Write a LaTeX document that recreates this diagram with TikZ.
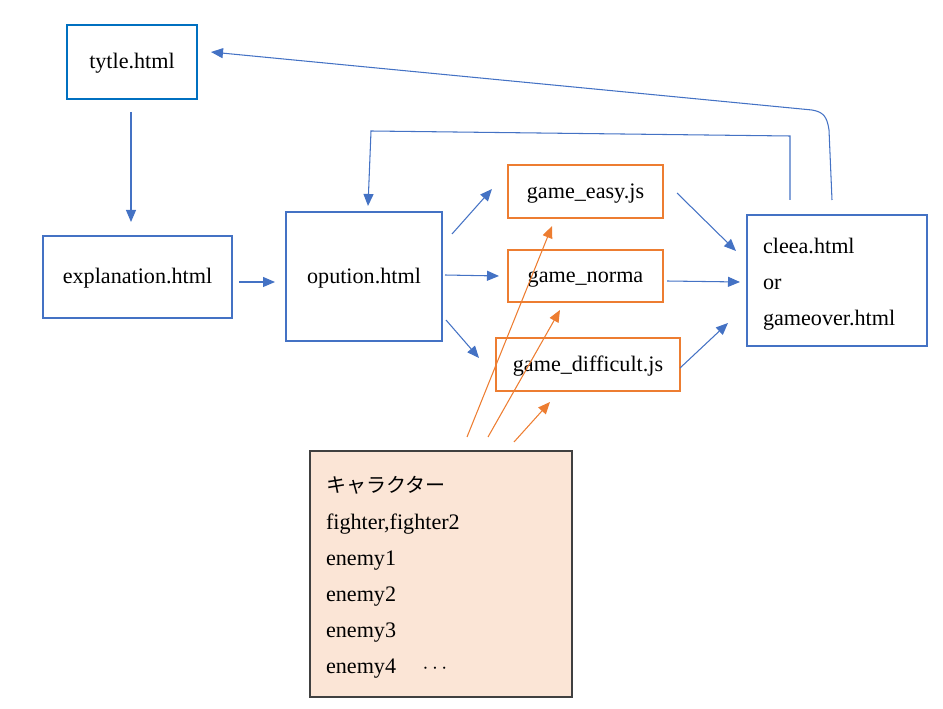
\documentclass[tikz,border=0pt]{standalone}
\usepackage{fontspec}
\setmainfont{Liberation Serif}
\newfontfamily\cjk{Noto Sans CJK JP}
\usetikzlibrary{arrows.meta}
\definecolor{blueline}{HTML}{4472C4}
\definecolor{titleblue}{HTML}{0070C0}
\definecolor{orangeline}{HTML}{ED7D31}
\definecolor{peach}{HTML}{FBE5D6}
\definecolor{boxgray}{HTML}{404040}

\begin{document}
\begin{tikzpicture}[x=0.02cm,y=-0.02cm,
  pagefont/.style={font=\fontsize{12.6}{20.6}\selectfont},
  bluebox/.style={draw=blueline, line width=1pt, inner sep=0pt, pagefont},
  orangebox/.style={draw=orangeline, line width=1pt, inner sep=0pt, pagefont},
  oneline/.style={text height=2.8mm, text depth=0pt},
  barrow/.style={draw=blueline, line width=0.6pt, -{Triangle[length=2.4mm,width=2mm]}},
  oarrow/.style={draw=orangeline, line width=0.6pt, -{Triangle[length=2.4mm,width=2mm]}}]
\useasboundingbox (0,0) rectangle (943,709);

% pages
\node[bluebox, oneline, draw=titleblue, line width=1.3pt, minimum width=2.6cm, minimum height=1.48cm] (tytle) at (132,62) {tytle.html};
\node[bluebox, oneline, minimum width=3.78cm, minimum height=1.64cm] (explanation) at (137.5,277) {explanation.html};
\node[bluebox, oneline, minimum width=3.12cm, minimum height=2.58cm] (opution) at (364,276.5) {opution.html};
\node[bluebox, minimum width=3.6cm, minimum height=2.62cm, text width=2.96cm, align=left] (result) at (837,280.5)
  {\rule{0pt}{4.6mm}cleea.html\\or\\gameover.html};

% game scripts
\node[orangebox, oneline, minimum width=3.1cm, minimum height=1.06cm] (easy) at (585.5,191.5) {game\_easy.js};
\node[orangebox, oneline, minimum width=3.1cm, minimum height=1.04cm] (norma) at (585.5,276) {game\_norma};
\node[orangebox, oneline, minimum width=3.68cm, minimum height=1.06cm] (difficult) at (588,364.5) {game\_difficult.js};

% characters
\node[draw=boxgray, fill=peach, line width=0.8pt, inner sep=0pt, pagefont, minimum width=5.24cm, minimum height=4.92cm,
  text width=4.6cm, align=left] (chara) at (441,574)
  {\rule{0pt}{4.7mm}{\cjk\fontsize{11.4}{20.6}\selectfont キャラクター}\\fighter,fighter2\\enemy1\\enemy2\\enemy3\\enemy4\hspace{1.2em}$\cdots$};

% arrow ends
\coordinate (tyS) at (131,112);
\coordinate (exN) at (131,222);
\coordinate (exE) at (239,282);
\coordinate (opW) at (275,282);
\coordinate (opNE) at (452,234);
\coordinate (eaSW) at (492,189);
\coordinate (opE) at (445,275);
\coordinate (noW) at (499,276);
\coordinate (opSE) at (446,320);
\coordinate (diW) at (479,358);
\coordinate (eaE) at (677,193);
\coordinate (reNW) at (736,251);
\coordinate (noE) at (667,281);
\coordinate (reW) at (740,282);
\coordinate (diE) at (680,368);
\coordinate (reSW) at (728,323);
\coordinate (reTop1) at (790,200);
\coordinate (opTop) at (368,206);
\coordinate (reTop2) at (832,200);
\coordinate (tyE) at (211,52);
\coordinate (chA) at (467,437);
\coordinate (eaS) at (552,226);
\coordinate (chB) at (488,437);
\coordinate (noS) at (560,310);
\coordinate (chC) at (514,442);
\coordinate (diS) at (550,402);

% flow
\draw[barrow] (tyS) -- (exN);
\draw[barrow] (exE) -- (opW);
\draw[barrow] (opNE) -- (eaSW);
\draw[barrow] (opE) -- (noW);
\draw[barrow] (opSE) -- (diW);
\draw[barrow] (eaE) -- (reNW);
\draw[barrow] (noE) -- (reW);
\draw[barrow] (diE) -- (reSW);

% back again
\draw[barrow] (reTop1) -- (790,136) -- (371,131) -- (opTop);
\draw[barrow] (reTop2) -- (829,130) .. controls (827,116) and (823,112) .. (812,110) -- (tyE);

% characters used
\draw[oarrow] (chA) -- (eaS);
\draw[oarrow] (chB) -- (noS);
\draw[oarrow] (chC) -- (diS);
\end{tikzpicture}
\end{document}
